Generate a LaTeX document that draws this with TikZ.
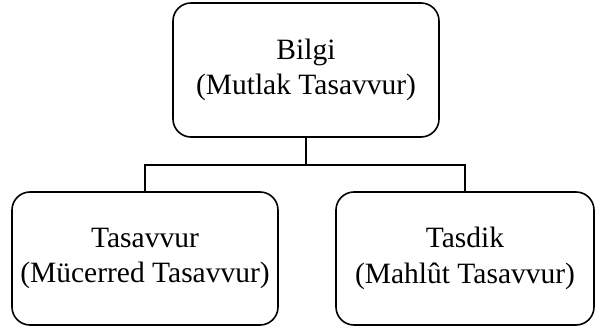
\documentclass[tikz,border=0pt]{standalone}
\usepackage{fontspec}
\setmainfont{Liberation Serif}
\begin{document}
\begin{tikzpicture}[x=1pt,y=-1pt,
  box/.style={draw,line width=1.6pt,rounded corners=18pt,align=center,
    font=\fontsize{29.5}{35.5}\selectfont,inner sep=0pt},
  conn/.style={line width=1.6pt}]
\useasboundingbox (0,0) rectangle (595,329);
\node[box,minimum width=266pt,minimum height=134pt] (top) at (306,70) {Bilgi\\(Mutlak Tasavvur)};
\node[box,minimum width=266pt,minimum height=133pt] (left) at (145,258.5) {Tasavvur\\(Mücerred Tasavvur)};
\node[box,minimum width=258pt,minimum height=133pt] (right) at (465,258.5) {Tasdik\\(Mahlût Tasavvur)};
\coordinate (bus) at (306,165);
\draw[conn] (top.south) -- (bus);
\draw[conn] (left.north) |- (bus) -| (right.north);
\end{tikzpicture}
\end{document}
